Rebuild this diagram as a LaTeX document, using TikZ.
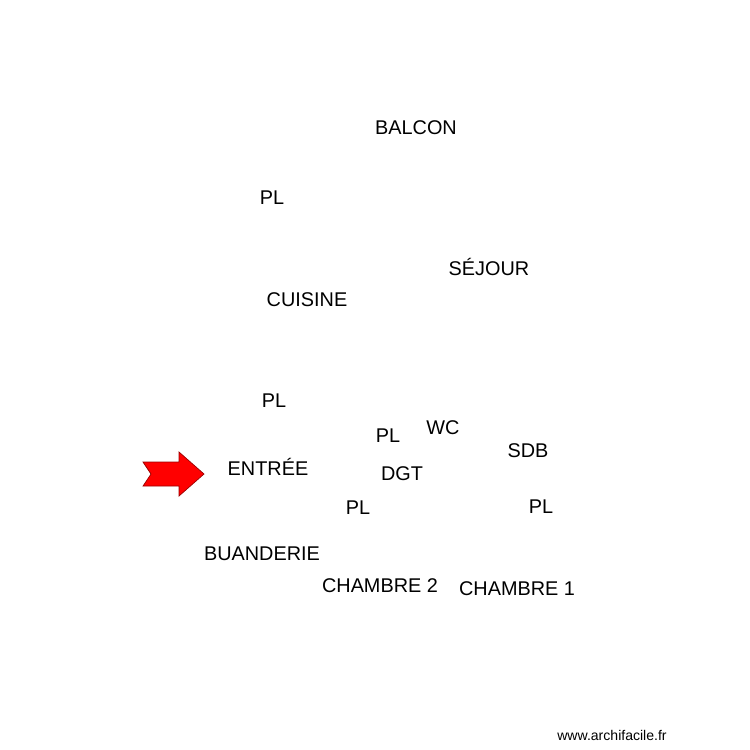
\documentclass[tikz,border=0pt]{standalone}
\usepackage{fontspec}
\setmainfont{Liberation Sans}
\tikzset{room/.style={font=\fontsize{11.3}{13}\selectfont, inner sep=0pt}}
\begin{document}
\begin{tikzpicture}[x=0.02cm,y=-0.02cm]
\useasboundingbox (0,0) rectangle (750,750);
% rooms
\node[room] (balcon) at (416,128) {BALCON};
\node[room] (pl1) at (272,198) {PL};
\node[room] (sejour) at (489,267) {SÉJOUR};
\node[room] (cuisine) at (307,300) {CUISINE};
\node[room] (pl2) at (274,401) {PL};
\node[room] (pl3) at (388,436) {PL};
\node[room] (wc) at (443,428) {WC};
\node[room] (sdb) at (528,451) {SDB};
\node[room] (entree) at (268,467) {ENTRÉE};
\node[room] (dgt) at (402,474) {DGT};
\node[room] (pl4) at (358,508) {PL};
\node[room] (pl5) at (541,507) {PL};
\node[room] (buanderie) at (262,554) {BUANDERIE};
\node[room] (ch2) at (380,586) {CHAMBRE 2};
\node[room] (ch1) at (517,589) {CHAMBRE 1};
% entry arrow
\draw[fill=red, draw=red!60!black, line width=0.4pt]
  (143,462) -- (179,462) -- (179,452) -- (204,474) -- (179,496) -- (179,486) -- (143,486) -- (151,474) -- cycle;
\node[font=\fontsize{8}{9}\selectfont, inner sep=0pt] (mark) at (612,735) {www.archifacile.fr};
\end{tikzpicture}
\end{document}
